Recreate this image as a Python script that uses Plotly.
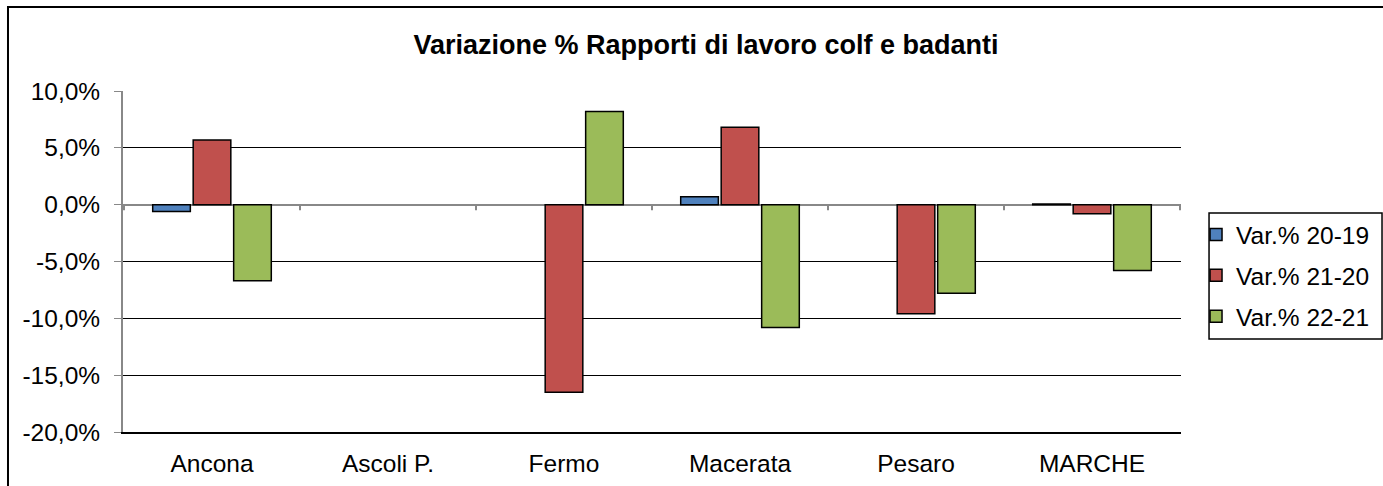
import plotly.graph_objects as go

province = ["Ancona", "Ascoli P.", "Fermo", "Macerata", "Pesaro", "MARCHE"]
var_20_19 = [-0.6, None, None, 0.7, None, 0.05]
var_21_20 = [5.7, None, -16.5, 6.8, -9.6, -0.8]
var_22_21 = [-6.7, None, 8.2, -10.8, -7.8, -5.8]

tick_vals = [-20, -15, -10, -5, 0, 5, 10]
tick_text = ["-20,0%", "-15,0%", "-10,0%", "-5,0%", "0,0%", "5,0%", "10,0%"]

serie = [
    ("Var.% 20-19", var_20_19, "#4f81bd"),
    ("Var.% 21-20", var_21_20, "#c0504d"),
    ("Var.% 22-21", var_22_21, "#9bbb59"),
]

fig = go.Figure()
for i, (nome, valori, colore) in enumerate(serie):
    fig.add_trace(go.Bar(
        x=province, y=valori, name=nome, legendgroup=str(i),
        marker=dict(color=colore, line=dict(color="black", width=1.5)),
    ))

# tacche sull'asse dello zero, tra le categorie
for k in range(len(province) + 1):
    fig.add_shape(type="line", xref="x", yref="y", x0=k - 0.5, x1=k - 0.5,
                  y0=0, y1=-0.5, line=dict(color="#888888", width=2))

# cornice esterna del grafico
fig.add_shape(type="rect", xref="paper", yref="paper",
              x0=-0.1087, x1=1.25, y0=-0.3, y1=1.246,
              line=dict(color="black", width=2), layer="below")

# riquadro della legenda
fig.add_shape(type="rect", xref="paper", yref="paper",
              x0=1.0265, x1=1.19, y0=0.2727, y1=0.642,
              line=dict(color="black", width=1.5), fillcolor="white", layer="below")

fig.update_layout(
    width=1383, height=486,
    margin=dict(l=123, r=202, t=91, b=54, autoexpand=False),
    paper_bgcolor="white", plot_bgcolor="white",
    font=dict(family="Liberation Sans, Arial", size=24.5, color="black"),
    title=dict(text="<b>Variazione % Rapporti di lavoro colf e badanti</b>",
               x=0.551, xref="paper", xanchor="center", y=0.908, yanchor="middle",
               font=dict(size=27)),
    bargap=0.31, bargroupgap=0.07,
    showlegend=True,
    legend=dict(x=1.0142, xanchor="left", y=0.645, yanchor="top",
                borderwidth=0, bgcolor="rgba(0,0,0,0)",
                tracegroupgap=6, font=dict(size=24.5), itemwidth=30),
    xaxis=dict(showgrid=False, showline=True, linecolor="black", linewidth=1.5,
               ticks="", ticklabelstandoff=9, automargin=False),
    yaxis=dict(range=[-20, 10], tickvals=tick_vals, ticktext=tick_text,
               showgrid=True, gridcolor="black", gridwidth=1,
               zeroline=True, zerolinecolor="#888888", zerolinewidth=2,
               showline=True, linecolor="#888888", linewidth=2,
               ticks="outside", ticklen=7, tickcolor="#888888",
               ticklabelstandoff=9, automargin=False),
)

fig.write_html("out.html", config={"displayModeBar": False},
               post_script="document.body.style.margin='0';")
